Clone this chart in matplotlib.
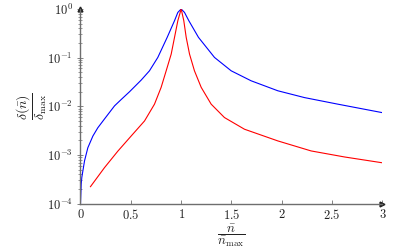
import numpy as np
import matplotlib
matplotlib.use("Agg")
import matplotlib.pyplot as plt
from matplotlib.ticker import FixedLocator, LogLocator, FuncFormatter, NullFormatter

plt.rcParams['mathtext.fontset'] = 'cm'
plt.rcParams['font.family'] = ['DejaVu Serif']

# data (x = n/n_max, y = log10(delta/delta_max))
blue_x = [0.0, 0.007, 0.013, 0.040, 0.073, 0.123, 0.172, 0.238, 0.338, 0.404, 0.487,
          0.603, 0.685, 0.768, 0.861, 0.934, 0.967, 1.0, 1.033, 1.076, 1.172, 1.331,
          1.497, 1.695, 1.96, 2.225, 2.556, 3.0]
blue_log = [-4.0, -3.60, -3.46, -3.12, -2.85, -2.61, -2.44, -2.26, -1.99, -1.86, -1.70,
            -1.46, -1.27, -0.995, -0.583, -0.24, -0.07, 0.0, -0.07, -0.24, -0.583, -0.995,
            -1.27, -1.475, -1.68, -1.82, -1.955, -2.13]

red_x = [0.099, 0.238, 0.371, 0.503, 0.636, 0.735, 0.801, 0.851, 0.901, 0.934, 0.967,
         1.0, 1.026, 1.05, 1.083, 1.132, 1.199, 1.298, 1.43, 1.629, 1.96, 2.291,
         2.623, 3.0]
red_log = [-3.65, -3.26, -2.92, -2.61, -2.30, -1.955, -1.61, -1.27, -0.926, -0.583, -0.24,
           0.0, -0.24, -0.583, -0.926, -1.27, -1.61, -1.955, -2.23, -2.47, -2.71, -2.916,
           -3.04, -3.16]

x_ticks = [0, 0.5, 1, 1.5, 2, 2.5, 3]
x_tick_labels = ['0', '0.5', '1', '1.5', '2', '2.5', '3']
y_ticks = [1e-4, 1e-3, 1e-2, 1e-1, 1e0]

fig = plt.figure(figsize=(4.10, 2.52), dpi=100)
ax = fig.add_axes([80.5/410, 1-203.7/252, (382.5-80.5)/410, (203.7-9)/252])

ax.plot(blue_x, 10**np.array(blue_log), color=(0, 0, 1), lw=0.8)
ax.plot(red_x, 10**np.array(red_log), color=(1, 0, 0), lw=0.8)

ax.set_yscale('log')
ax.set_xlim(0, 3)
ax.set_ylim(1e-4, 1)

axis_col = '#6e6e6e'
for s in ['top', 'right']:
    ax.spines[s].set_visible(False)
for s in ['left', 'bottom']:
    ax.spines[s].set_color(axis_col)
    ax.spines[s].set_linewidth(1.0)

ax.xaxis.set_major_locator(FixedLocator(x_ticks))
ax.set_xticklabels([f'${t}$' for t in x_tick_labels])
ax.yaxis.set_major_locator(FixedLocator(y_ticks))
ax.yaxis.set_major_formatter(FuncFormatter(lambda v, p: r'$10^{%d}$' % int(round(np.log10(v)))))
ax.yaxis.set_minor_locator(LogLocator(base=10, subs=np.arange(2, 10)))
ax.yaxis.set_minor_formatter(NullFormatter())
ax.xaxis.set_minor_locator(FixedLocator([]))

ax.tick_params(axis='x', which='major', direction='in', length=3, width=0.6,
               colors=axis_col, labelcolor='#222222', labelsize=9, pad=3)
ax.tick_params(axis='y', which='major', direction='inout', length=5, width=0.6,
               colors=axis_col, labelcolor='#222222', labelsize=9, pad=3)
ax.tick_params(axis='y', which='minor', direction='inout', length=3, width=0.5,
               colors=axis_col)

# arrow heads
ax.plot([1], [0], marker='>', ms=3.5, color='#222222', transform=ax.transAxes, clip_on=False)
ax.plot([0], [1], marker='^', ms=3.5, color='#222222', transform=ax.transAxes, clip_on=False)

ax.set_xlabel(r'$\dfrac{\bar{n}}{\bar{n}_{\max}}$', fontsize=9.5, color='#222222')
ax.xaxis.label.set_va('center')
ax.xaxis.set_label_coords(0.5, -0.165)
ax.set_ylabel(r'$\dfrac{\delta(\bar{n})}{\delta_{\max}}$', fontsize=10, color='#222222')
ax.yaxis.label.set_va('center')
ax.yaxis.label.set_ha('center')
ax.yaxis.set_label_coords(-0.162, 0.5)

fig.savefig('out.png', dpi=100)
